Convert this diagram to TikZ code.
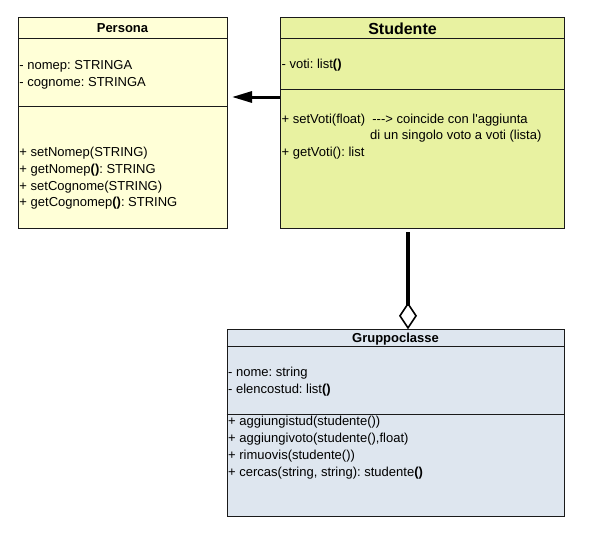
\documentclass[tikz,border=0pt]{standalone}
\usepackage{fontspec}
\newfontfamily\uml{Liberation Sans}
\usetikzlibrary{arrows.meta,calc}
\frenchspacing
\definecolor{persfill}{HTML}{FFFFD7}
\definecolor{studfill}{HTML}{E8F2A1}
\definecolor{grpfill}{HTML}{DEE6EF}
\definecolor{edge}{HTML}{1A1A1A}
\tikzset{
  classbox/.style={draw=edge, line width=0.8pt, inner sep=0pt, anchor=north west},
  sepline/.style={draw=edge, line width=0.8pt},
  item/.style={anchor=base west, inner sep=0pt, font=\uml\frenchspacing\fontsize{13pt}{17pt}\selectfont},
  ctitle/.style={anchor=base, inner sep=0pt, font=\uml\bfseries\fontsize{13pt}{17pt}\selectfont},
  inh/.style={line width=3pt, -{Triangle[length=20pt,width=11pt]}},
  agg/.style={line width=4pt, -{Diamond[open,length=27pt,width=18pt,line width=1.6pt]}}
}
\begin{document}
\begin{tikzpicture}[x=1pt,y=-1pt]
\useasboundingbox (0,0) rectangle (603,536);
% Persona
\node[classbox, fill=persfill, minimum width=208.4pt, minimum height=210.4pt] (pers) at (18.3,17.3) {};
\draw[sepline] ($(pers.north west)+(0,21)$) -- ($(pers.north east)+(0,21)$);
\draw[sepline] ($(pers.north west)+(0,89.4)$) -- ($(pers.north east)+(0,89.4)$);
\node[ctitle] (perst) at (122.5,32.7) {Persona};
\node[item] (p1) at (19.3,69) {- nomep: STRINGA};
\node[item] (p2) at (19.3,86) {- cognome: STRINGA};
\node[item] (p3) at (19.3,156.5) {+ setNomep(STRING)};
\node[item] (p4) at (19.3,173.2) {+ getNomep\textbf{()}: STRING};
\node[item] (p5) at (19.3,190) {+ setCognome(STRING)};
\node[item] (p6) at (19.3,206.7) {+ getCognomep\textbf{()}: STRING};
% Studente
\node[classbox, fill=studfill, minimum width=284pt, minimum height=210.4pt] (stud) at (280.3,17.3) {};
\draw[sepline] ($(stud.north west)+(0,21)$) -- ($(stud.north east)+(0,21)$);
\draw[sepline] ($(stud.north west)+(0,72)$) -- ($(stud.north east)+(0,72)$);
\node[anchor=base, inner sep=0pt, font=\uml\bfseries\fontsize{16pt}{19pt}\selectfont] (studt) at (402.5,34) {Studente};
\node[item] (s1) at (281.5,68.3) {- voti: list\textbf{()}};
\node[item] (s2) at (281.5,123.3) {+ setVoti(float)\ \ ---> coincide con l'aggiunta};
\node[item] (s3) at (370,139.3) {di un singolo voto a voti (lista)};
\node[item] (s4) at (281.5,156) {+ getVoti(): list};
% Gruppoclasse
\node[classbox, fill=grpfill, minimum width=337.6pt, minimum height=186.7pt] (grp) at (226.7,329.3) {};
\draw[sepline] ($(grp.north west)+(0,17.4)$) -- ($(grp.north east)+(0,17.4)$);
\draw[sepline] ($(grp.north west)+(0,85)$) -- ($(grp.north east)+(0,85)$);
\node[ctitle] (grpt) at (395.5,342.7) {Gruppoclasse};
\node[item] (g1) at (228,376.7) {- nome: string};
\node[item] (g2) at (228,393.3) {- elencostud: list\textbf{()}};
\node[item] (g3) at (228,425.7) {+ aggiungistud(studente())};
\node[item] (g4) at (228,442.7) {+ aggiungivoto(studente(),float)};
\node[item] (g5) at (228,459.3) {+ rimuovis(studente())};
\node[item] (g6) at (228,476.7) {+ cercas(string, string): studente\textbf{()}};
% connectors
\coordinate (inhtip) at (232,97);
\draw[inh] (stud.north west |- inhtip) -- (inhtip);
\coordinate (aggx) at (408,0);
\draw[agg, shorten <=3.5pt] (stud.south -| aggx) -- (grp.north -| aggx);
\end{tikzpicture}
\end{document}
